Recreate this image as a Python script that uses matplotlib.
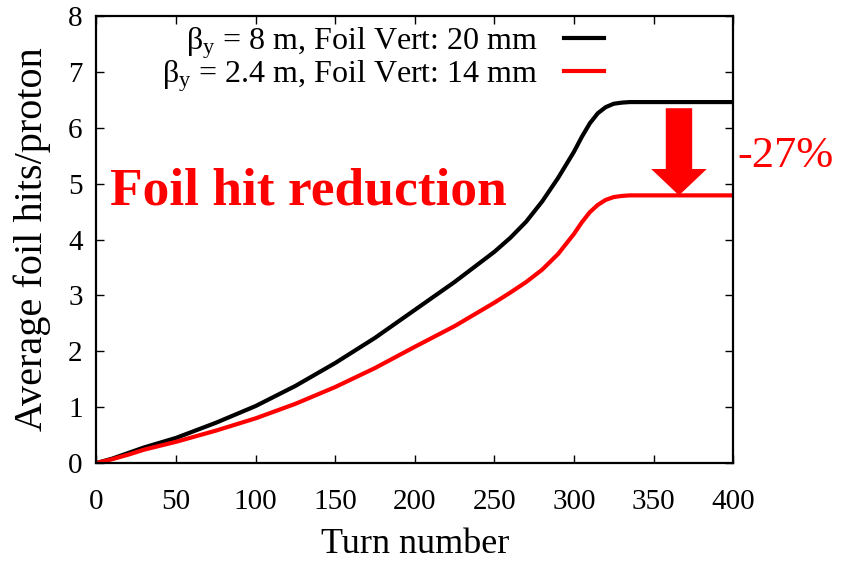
import matplotlib
matplotlib.use('Agg')
import matplotlib.pyplot as plt
from matplotlib.patches import FancyArrowPatch

plt.rcParams['font.family'] = ['Liberation Serif', 'DejaVu Serif']
plt.rcParams['mathtext.fontset'] = 'custom'
plt.rcParams['mathtext.rm'] = 'Liberation Serif'
plt.rcParams['mathtext.it'] = 'Liberation Serif:italic'

# data
turns = [0, 10, 20, 30, 50, 75, 100, 125, 150, 175, 200, 225, 250, 260, 270,
         280, 290, 300, 305, 310, 315, 320, 325, 330, 335, 340, 400]
hits_beta8 = [0, 0.08, 0.18, 0.28, 0.45, 0.72, 1.02, 1.38, 1.79, 2.24, 2.74,
              3.24, 3.78, 4.03, 4.32, 4.68, 5.1, 5.57, 5.84, 6.08, 6.26, 6.37,
              6.43, 6.45, 6.46, 6.46, 6.46]
hits_beta24 = [0, 0.07, 0.15, 0.24, 0.38, 0.58, 0.8, 1.06, 1.36, 1.7, 2.08,
               2.45, 2.87, 3.05, 3.24, 3.46, 3.74, 4.1, 4.31, 4.49, 4.62, 4.71,
               4.76, 4.78, 4.79, 4.79, 4.79]
labels = [r'β$_\mathrm{y}$ = 8 m, Foil Vert: 20 mm',
          r'β$_\mathrm{y}$ = 2.4 m, Foil Vert: 14 mm']
xticks = [0, 50, 100, 150, 200, 250, 300, 350, 400]
yticks = [0, 1, 2, 3, 4, 5, 6, 7, 8]
arrow_x = 366
reduction_text = '-27%'


def main():
    fig = plt.figure(figsize=(8.41, 5.64), dpi=100)
    ax = fig.add_axes([0.1147, 0.179, 0.757, 0.7926])

    ax.plot(turns, hits_beta8, color='black', lw=3, label=labels[0])
    ax.plot(turns, hits_beta24, color='#ff0000', lw=3, label=labels[1])

    ax.set_xlim(0, 400)
    ax.set_ylim(0, 8)
    ax.set_xticks(xticks)
    ax.set_yticks(yticks)
    ax.tick_params(direction='in', top=True, right=True, length=6, width=1,
                   labelsize=21)
    ax.tick_params(axis='x', pad=19)
    ax.tick_params(axis='y', pad=10)
    for s in ax.spines.values():
        s.set_linewidth(1.6)
    ax.set_xlabel('Turn number', fontsize=26, labelpad=9)
    ax.set_ylabel('Average foil hits/proton', fontsize=29, labelpad=12)

    ax.legend(loc='upper right', frameon=False, markerfirst=False,
              fontsize=23, handlelength=1.25, handletextpad=0.8,
              labelspacing=-0.08, borderaxespad=0.0, borderpad=0.1,
              bbox_to_anchor=(0.802, 0.986))

    # arrow showing the drop between the plateaus
    arr = FancyArrowPatch((arrow_x, 6.35), (arrow_x, hits_beta24[-1]),
                          arrowstyle='simple,head_length=19,head_width=40,tail_width=19',
                          mutation_scale=1, shrinkA=0, shrinkB=0,
                          color='#ff0000', lw=0)
    ax.add_patch(arr)
    ax.text(403, 5.5, reduction_text, color='#ff0000', fontsize=32,
            ha='left', va='center', clip_on=False)
    ax.text(8.5, 4.62, 'Foil hit reduction', color='#ff0000', fontsize=38.5,
            fontweight='bold', ha='left', va='baseline')

    fig.savefig('out.png', dpi=100)


if __name__ == '__main__':
    main()
